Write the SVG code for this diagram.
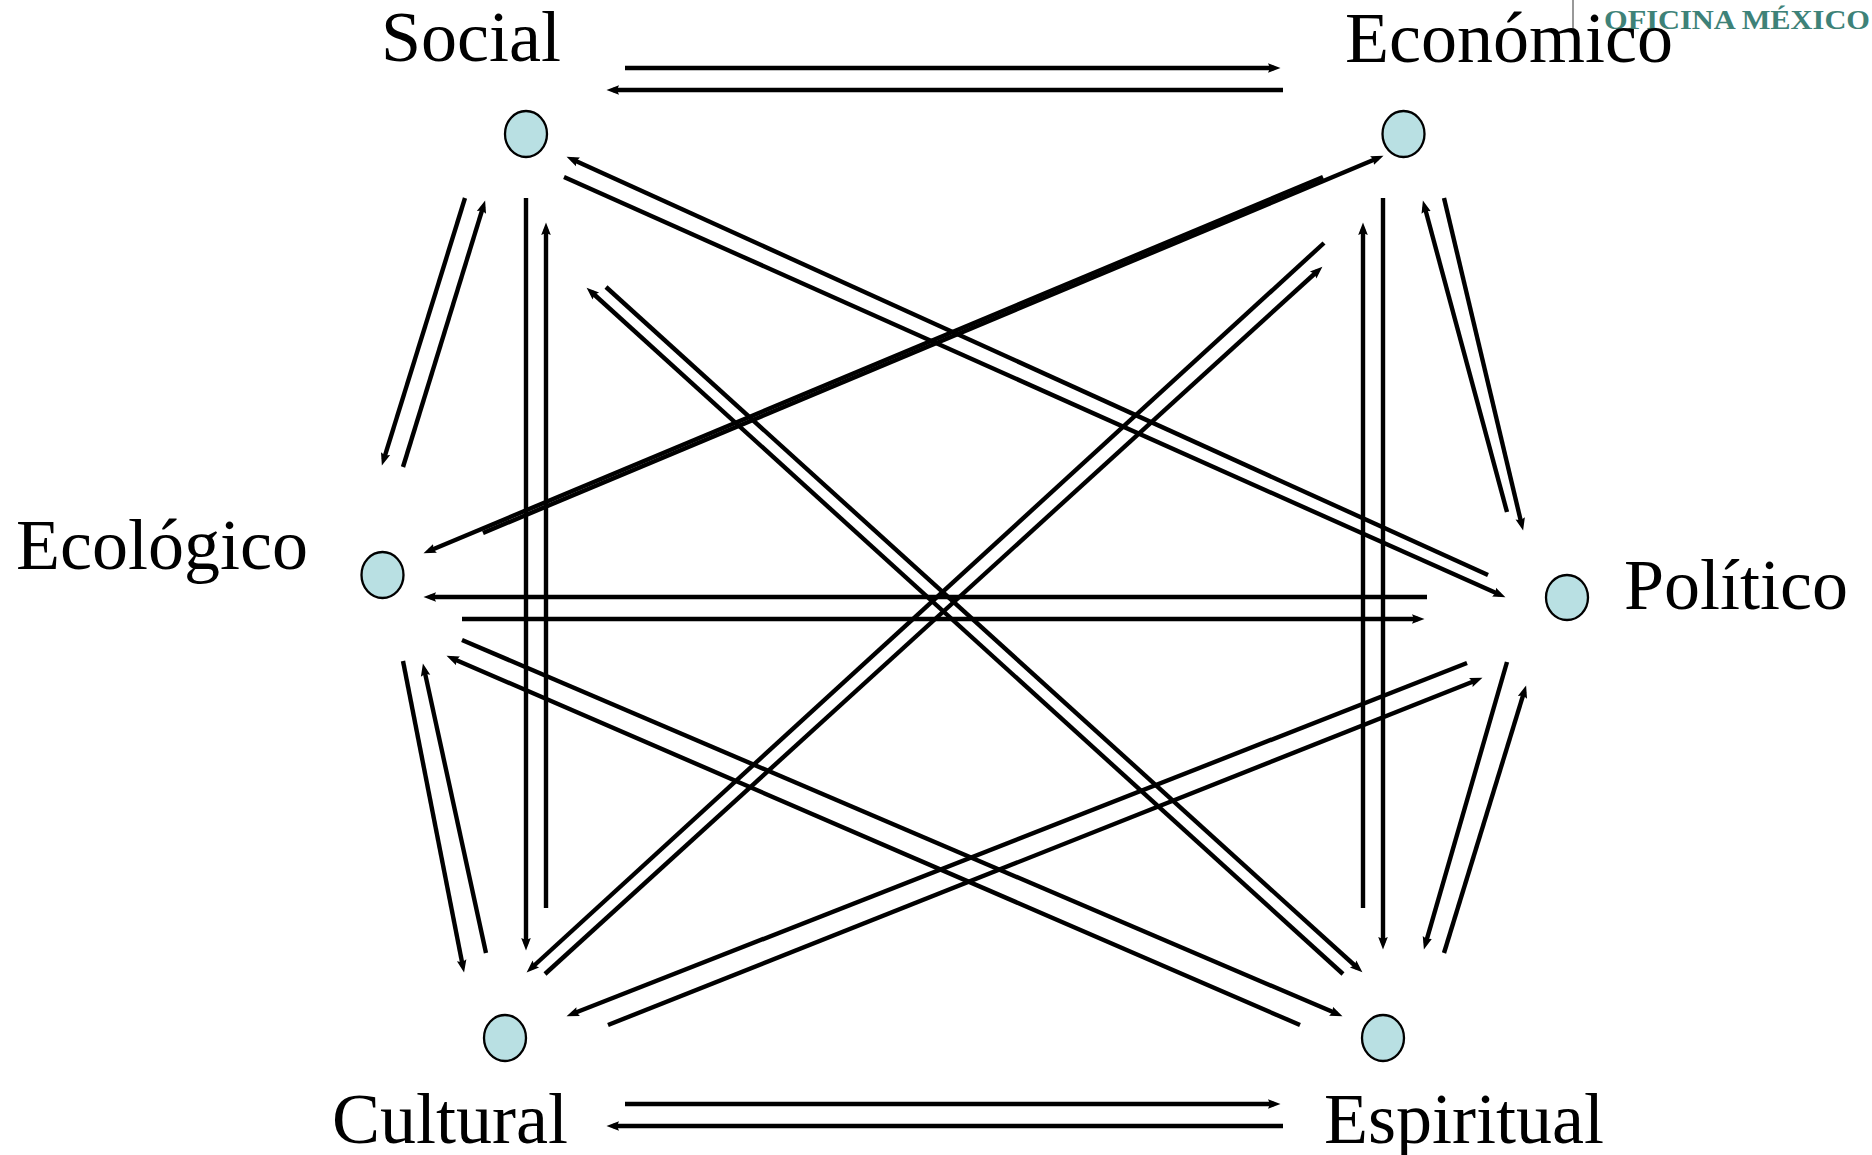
<svg xmlns="http://www.w3.org/2000/svg" width="1872" height="1155" viewBox="0 0 1872 1155">
<style>
.lbl{font-family:"Liberation Serif","Times New Roman",serif;font-size:72px;fill:#000}
.nd{fill:#b9e0e3;stroke:#000;stroke-width:2.3}
.cn line{stroke:#000;stroke-width:4.4;fill:none}
.ar{marker-end:url(#ah)}
.logo{font-family:"Liberation Serif","Times New Roman",serif;font-weight:bold;font-size:28px;fill:#3e8278}
</style>
<defs>
<marker id="ah" markerUnits="userSpaceOnUse" markerWidth="15" markerHeight="12" viewBox="0 -6 15 12" refX="6" refY="0" orient="auto">
<path d="M0,-4.8 L12.5,0 L0,4.8 L2,0 z" fill="#000"/>
</marker>
</defs>
<rect width="1872" height="1155" fill="#fff"/>
<line x1="1573" y1="0" x2="1573" y2="32" stroke="#333" stroke-width="1"/>
<text class="logo" x="1604" y="29" textLength="266" lengthAdjust="spacingAndGlyphs">OFICINA MÉXICO</text>

<g id="connectors" class="cn">
<line class="ar" x1="625" y1="68" x2="1274" y2="68"/>
<line class="ar" x1="1283" y1="90" x2="613" y2="90"/>
<line class="ar" x1="465" y1="198" x2="383.8" y2="459.3"/>
<line class="ar" x1="403" y1="467" x2="483.2" y2="206.7"/>
<line class="ar" x1="526" y1="198" x2="526" y2="944"/>
<line class="ar" x1="546" y1="908" x2="546" y2="229"/>
<line class="ar" x1="1488" y1="575" x2="572.5" y2="159.5"/>
<line class="ar" x1="564" y1="177" x2="1499.5" y2="594.6"/>
<line class="ar" x1="1343" y1="974" x2="591.4" y2="292"/>
<line class="ar" x1="606" y1="287" x2="1357.6" y2="968"/>
<line class="ar" x1="483" y1="533" x2="1377.5" y2="158.3"/>
<line class="ar" x1="1323" y1="177" x2="429.5" y2="550.7"/>
<line class="ar" x1="1324" y1="243" x2="531.4" y2="968"/>
<line class="ar" x1="545" y1="974" x2="1317.6" y2="271"/>
<line class="ar" x1="1383" y1="198" x2="1383" y2="943"/>
<line class="ar" x1="1363" y1="908" x2="1363" y2="229"/>
<line class="ar" x1="1507" y1="512" x2="1424.6" y2="206.8"/>
<line class="ar" x1="1444" y1="198" x2="1521.6" y2="524.2"/>
<line class="ar" x1="1427" y1="597" x2="430" y2="597"/>
<line class="ar" x1="462" y1="619" x2="1418" y2="619"/>
<line class="ar" x1="462" y1="640" x2="1336.5" y2="1013.6"/>
<line class="ar" x1="1300" y1="1025" x2="452.5" y2="658.4"/>
<line class="ar" x1="403" y1="661" x2="462.8" y2="966.1"/>
<line class="ar" x1="486" y1="953" x2="424.3" y2="669.9"/>
<line class="ar" x1="1467" y1="663" x2="572.6" y2="1013.8"/>
<line class="ar" x1="608" y1="1025" x2="1476.4" y2="680.2"/>
<line class="ar" x1="1507" y1="662" x2="1425.7" y2="943.2"/>
<line class="ar" x1="1444" y1="953" x2="1524.2" y2="691.7"/>
<line class="ar" x1="625" y1="1104" x2="1274" y2="1104"/>
<line class="ar" x1="1283" y1="1126" x2="613" y2="1126"/>
</g>

<g id="social">
<ellipse class="nd" cx="526" cy="134" rx="21" ry="23"/>
<text class="lbl" x="381" y="61">Social</text>
</g>
<g id="economico">
<ellipse class="nd" cx="1403.5" cy="134" rx="21" ry="23"/>
<text class="lbl" x="1345" y="62">Económico</text>
</g>
<g id="ecologico">
<ellipse class="nd" cx="382.5" cy="575" rx="21" ry="23"/>
<text class="lbl" x="16" y="569">Ecológico</text>
</g>
<g id="politico">
<ellipse class="nd" cx="1567" cy="597.5" rx="21" ry="22.5"/>
<text class="lbl" x="1624" y="609">Político</text>
</g>
<g id="cultural">
<ellipse class="nd" cx="505" cy="1038" rx="21" ry="23"/>
<text class="lbl" x="332" y="1143">Cultural</text>
</g>
<g id="espiritual">
<ellipse class="nd" cx="1383" cy="1038" rx="21" ry="23"/>
<text class="lbl" x="1324" y="1143">Espiritual</text>
</g>
</svg>
